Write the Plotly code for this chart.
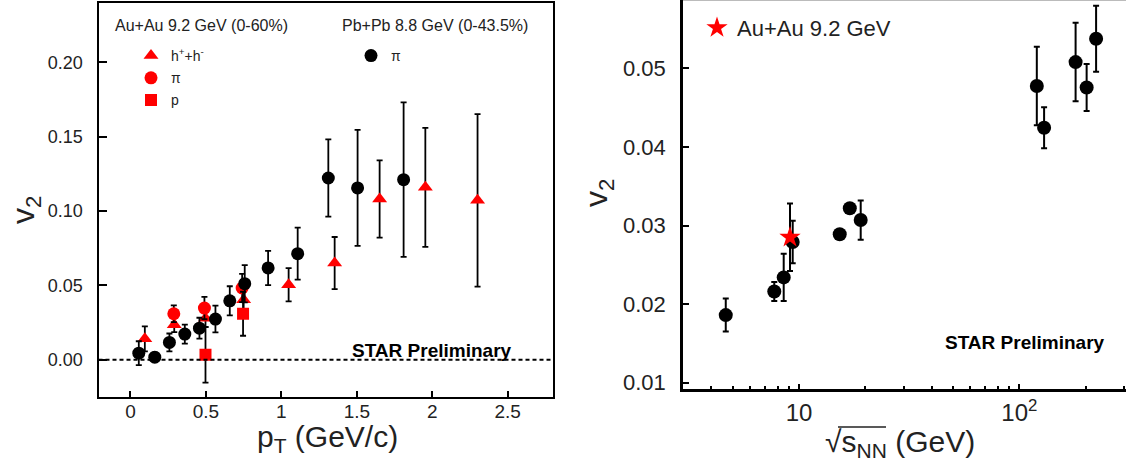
import plotly.graph_objects as go

# ---------------- data: left panel (v2 vs pT) ----------------
pb_pt = [0.055, 0.161, 0.258, 0.36, 0.457, 0.563, 0.658, 0.757, 0.912, 1.108, 1.311, 1.505, 1.81]
pb_v2 = [0.0045, 0.0018, 0.0117, 0.0173, 0.0213, 0.0274, 0.0397, 0.0512, 0.0618, 0.0714, 0.1223, 0.1156, 0.1212]
pb_err = [0.008, 0.003, 0.006, 0.0064, 0.007, 0.009, 0.0098, 0.0125, 0.0115, 0.0175, 0.026, 0.039, 0.052]

h_pt = [0.095, 0.29, 0.497, 0.75, 1.048, 1.353, 1.651, 1.954, 2.30]
h_v2 = [0.0141, 0.0236, 0.028, 0.0404, 0.0505, 0.0651, 0.1082, 0.116, 0.1073]
h_err = [0.0084, 0.005, 0.006, 0.008, 0.0112, 0.0175, 0.026, 0.040, 0.058]

pi_pt = [0.287, 0.49, 0.74]
pi_v2 = [0.031, 0.0348, 0.0483]
pi_err = [0.0056, 0.0075, 0.0095]

p_pt = [0.497, 0.746]
p_v2 = [0.0034, 0.031]
p_err = [0.0187, 0.0148]

left_yticks = [0.0, 0.05, 0.10, 0.15, 0.20]
left_xticks = [0, 0.5, 1, 1.5, 2, 2.5]
left_xticktext = ["0", "0.5", "1", "1.5", "2", "2.5"]

# ---------------- data: right panel (v2 vs sqrt(sNN)) ----------------
world_s = [4.65, 7.72, 8.52, 9.36, 15.3, 17.0, 19.05, 120, 129.5, 180, 202, 223]
world_v2 = [0.0186, 0.0216, 0.0234, 0.0279, 0.0289, 0.0322, 0.0307, 0.04775, 0.04244, 0.0508, 0.04757, 0.05376]
world_err = [0.0021, 0.0012, 0.003, 0.0027, 0.0005, 0.0005, 0.0025, 0.005, 0.0026, 0.005, 0.003, 0.0042]

star_s = [9.1]
star_v2 = [0.0285]
star_err = [0.0043]

right_yticks = [0.01, 0.02, 0.03, 0.04, 0.05]
right_xticks = [10, 100]
right_xticktext = ["10", "10<sup>2</sup>"]
right_minor = [4, 5, 6, 7, 8, 9, 20, 30, 40, 50, 60, 70, 80, 90, 200, 300]

FONT = "Liberation Sans, Arial, sans-serif"
RED = "#ff0000"

W, H = 1126, 470


def px_x(p):
    return p / W


def px_y(p):
    return 1 - p / H


fig = go.Figure()

eb = dict(type="data", color="black", thickness=1.8, width=3)

# left panel
fig.add_trace(go.Scatter(x=h_pt, y=h_v2, mode="markers", name="h<sup>+</sup>+h<sup>-</sup>",
                         error_y=dict(array=h_err, **eb),
                         marker=dict(symbol="triangle-up", size=13, color=RED),
                         xaxis="x", yaxis="y", legend="legend", legendgroup="a"))
fig.add_trace(go.Scatter(x=pi_pt, y=pi_v2, mode="markers", name="π",
                         error_y=dict(array=pi_err, **eb),
                         marker=dict(symbol="circle", size=13, color=RED),
                         xaxis="x", yaxis="y", legend="legend", legendgroup="b"))
fig.add_trace(go.Scatter(x=p_pt, y=p_v2, mode="markers", name="p",
                         error_y=dict(array=p_err, **eb),
                         marker=dict(symbol="square", size=12, color=RED),
                         xaxis="x", yaxis="y", legend="legend", legendgroup="c"))
fig.add_trace(go.Scatter(x=pb_pt, y=pb_v2, mode="markers", name="π",
                         error_y=dict(array=pb_err, **eb),
                         marker=dict(symbol="circle", size=13, color="black"),
                         xaxis="x", yaxis="y", legend="legend2"))

# right panel
eb2 = dict(type="data", color="black", thickness=2, width=3)
fig.add_trace(go.Scatter(x=world_s, y=world_v2, mode="markers", name="world",
                         error_y=dict(array=world_err, **eb2),
                         marker=dict(symbol="circle", size=14, color="black"),
                         xaxis="x2", yaxis="y2", showlegend=False))
fig.add_trace(go.Scatter(x=star_s, y=star_v2, mode="markers", name="Au+Au 9.2 GeV",
                         error_y=dict(array=star_err, **eb2),
                         marker=dict(symbol="star", size=16, color=RED),
                         xaxis="x2", yaxis="y2", legend="legend3"))

tickfont_l = dict(family=FONT, size=18, color="#222")
tickfont_r = dict(family=FONT, size=22, color="#222")

fig.update_layout(
    width=W, height=H,
    margin=dict(l=0, r=0, t=0, b=0),
    paper_bgcolor="white", plot_bgcolor="white",
    font=dict(family=FONT, color="black"),
    xaxis=dict(domain=[px_x(98.5), px_x(553)], range=[-0.212, 2.80],
               tickmode="array", tickvals=left_xticks, ticktext=left_xticktext,
               ticks="inside", ticklen=6, tickwidth=1.5, tickcolor="black",
               showline=True, linecolor="black", linewidth=2, mirror=True,
               showgrid=False, zeroline=False, tickfont=dict(family=FONT, size=19, color="#222"),
               ticklabelstandoff=-4, automargin=False, anchor="y"),
    yaxis=dict(domain=[px_y(397), px_y(3)], range=[-0.025, 0.240],
               tickmode="array", tickvals=left_yticks, tickformat=".2f",
               ticks="inside", ticklen=8, tickwidth=1.5, tickcolor="black",
               showline=True, linecolor="black", linewidth=2, mirror=True,
               showgrid=False, zeroline=False, tickfont=tickfont_l,
               ticklabelstandoff=10, automargin=False, anchor="x"),
    xaxis2=dict(domain=[px_x(683), 1.0], type="log", range=[0.4734, 2.484],
                tickmode="array", tickvals=right_xticks, ticktext=right_xticktext,
                ticks="inside", ticklen=6, tickwidth=1.5, tickcolor="black",
                minor=dict(tickmode="array", tickvals=right_minor, ticks="inside",
                           ticklen=4, tickwidth=1.5, tickcolor="black"),
                showline=True, linecolor="black", linewidth=2.5,
                showgrid=False, zeroline=False, tickfont=dict(family=FONT, size=24, color="#222"),
                ticklabelstandoff=0, automargin=False, anchor="y2"),
    yaxis2=dict(domain=[px_y(389.3), 1.0], range=[0.00916, 0.0587],
                tickmode="array", tickvals=right_yticks, tickformat=".2f",
                ticks="inside", ticklen=6, tickwidth=1.5, tickcolor="black",
                showline=True, linecolor="black", linewidth=2.5,
                showgrid=False, zeroline=False, tickfont=tickfont_r,
                ticklabelstandoff=10, automargin=False, anchor="x2"),
    legend=dict(x=px_x(131), y=px_y(40), xanchor="left", yanchor="top",
                bgcolor="rgba(0,0,0,0)", font=dict(family=FONT, size=14, color="#222"),
                tracegroupgap=1, itemclick=False),
    legend2=dict(x=px_x(351), y=px_y(40), xanchor="left", yanchor="top",
                 bgcolor="rgba(0,0,0,0)", font=dict(family=FONT, size=14, color="#222")),
    legend3=dict(x=px_x(697), y=px_y(7), xanchor="left", yanchor="top",
                 bgcolor="rgba(0,0,0,0)", font=dict(family=FONT, size=22, color="#222")),
    showlegend=True,
)

# dashed zero line
fig.add_shape(type="line", xref="x domain", yref="y", x0=0, x1=1, y0=0, y1=0,
              line=dict(color="black", width=2, dash="4px,3px"))

# faint top border of right panel
fig.add_shape(type="line", xref="x2 domain", yref="paper", x0=0, x1=1, y0=1, y1=1,
              line=dict(color="#bbbbbb", width=2))

ann = []
ann.append(dict(text="Au+Au 9.2 GeV (0-60%)", x=px_x(113), y=px_y(25), xref="paper", yref="paper",
                xanchor="left", yanchor="middle", showarrow=False,
                font=dict(family=FONT, size=16, color="#222")))
ann.append(dict(text="Pb+Pb 8.8 GeV (0-43.5%)", x=px_x(340), y=px_y(25), xref="paper", yref="paper",
                xanchor="left", yanchor="middle", showarrow=False,
                font=dict(family=FONT, size=16, color="#222")))
ann.append(dict(text="<b>STAR Preliminary</b>", x=px_x(350), y=px_y(350), xref="paper", yref="paper",
                xanchor="left", yanchor="middle", showarrow=False,
                font=dict(family=FONT, size=19, color="black")))
ann.append(dict(text="<b>STAR Preliminary</b>", x=px_x(943), y=px_y(342), xref="paper", yref="paper",
                xanchor="left", yanchor="middle", showarrow=False,
                font=dict(family=FONT, size=19, color="black")))
# axis titles
ann.append(dict(text="v<sub>2</sub>", x=px_x(25), y=px_y(210), xref="paper", yref="paper",
                xanchor="center", yanchor="middle", showarrow=False, textangle=-90,
                font=dict(family=FONT, size=32, color="#222")))
ann.append(dict(text="p<sub>T</sub> (GeV/c)", x=px_x(327), y=px_y(438), xref="paper", yref="paper",
                xanchor="center", yanchor="middle", showarrow=False,
                font=dict(family=FONT, size=30, color="#222")))
ann.append(dict(text="v<sub>2</sub>", x=px_x(598), y=px_y(193), xref="paper", yref="paper",
                xanchor="center", yanchor="middle", showarrow=False, textangle=-90,
                font=dict(family=FONT, size=32, color="#222")))
ann.append(dict(text="√s<sub>NN</sub> (GeV)", x=px_x(900), y=px_y(443), xref="paper", yref="paper",
                xanchor="center", yanchor="middle", showarrow=False,
                font=dict(family=FONT, size=30, color="#222")))
fig.update_layout(annotations=ann)

# overline of the square root
fig.add_shape(type="line", xref="paper", yref="paper", x0=px_x(838), x1=px_x(886),
              y0=px_y(427), y1=px_y(427), line=dict(color="#222", width=1.5))

fig.write_html("out.html")
